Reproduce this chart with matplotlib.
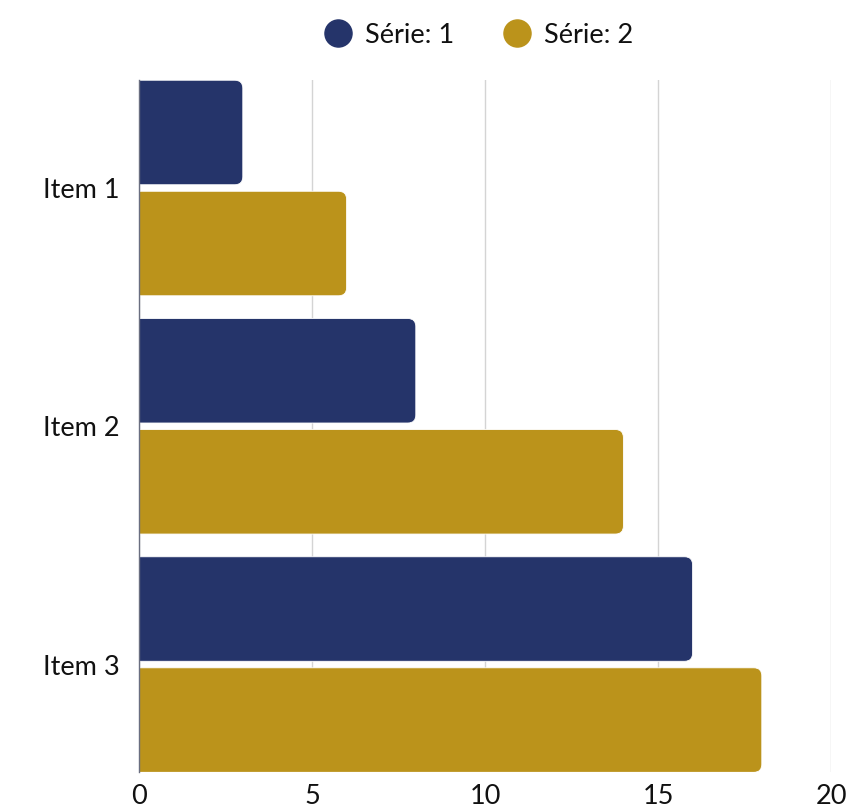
import matplotlib
matplotlib.use("Agg")
import matplotlib.pyplot as plt
from matplotlib.patches import FancyBboxPatch
from matplotlib.lines import Line2D

categories = ["Item 1", "Item 2", "Item 3"]
series_names = ["Série: 1", "Série: 2"]
series_1 = [3, 8, 16]
series_2 = [6, 14, 18]
colors = ["#25346A", "#BB931B"]
x_ticks = [0, 5, 10, 15, 20]

plt.rcParams["font.family"] = ["Lato", "DejaVu Sans"]

W, H = 849, 808
fig = plt.figure(figsize=(W / 100, H / 100), dpi=100)
ax_l, ax_r, ax_t, ax_b = 139, 831, 80, 772
ax = fig.add_axes([ax_l / W, 1 - ax_b / H, (ax_r - ax_l) / W, (ax_b - ax_t) / H])

xmax = 20
ax.set_xlim(0, xmax)
ax.set_ylim(2.451, -0.4533)

bar_h = 0.4386
offset = 0.233
px_x = (ax_r - ax_l) / xmax
px_y = (ax_b - ax_t) / (2.451 + 0.4533)
radius_px = 8
r_x = radius_px / px_x
aspect = px_x / px_y

for s, (vals, col) in enumerate(zip([series_1, series_2], colors)):
    sign = -1 if s == 0 else 1
    for i, v in enumerate(vals):
        yc = i + sign * offset
        patch = FancyBboxPatch(
            (-1, yc - bar_h / 2), v + 1, bar_h,
            boxstyle=f"round,pad=0,rounding_size={r_x}",
            mutation_aspect=aspect,
            facecolor=col, edgecolor="white", linewidth=0.6,
            zorder=3, clip_on=True,
        )
        ax.add_patch(patch)

ax.set_xticks(x_ticks)
ax.set_xticklabels([str(t) for t in x_ticks], fontsize=19.5, color="#111111")
ax.set_yticks(range(len(categories)))
ax.set_yticklabels(categories, fontsize=19.5, color="#111111")
ax.tick_params(axis="x", length=0, pad=9)
ax.tick_params(axis="y", length=0, pad=14)

ax.grid(axis="x", color="#d4d4d4", linewidth=1, zorder=0)
ax.grid(axis="y", visible=False)
ax.set_axisbelow(True)
for side in ["top", "right", "bottom"]:
    ax.spines[side].set_visible(False)
ax.spines["left"].set_color("#6a6e80")
ax.spines["left"].set_linewidth(1)
ax.spines["left"].set_zorder(4)

# legend drawn as circle markers with labels above the plot
leg_y = 1 - 33 / H
marker_x = [338, 517]
for mx, name, col in zip(marker_x, series_names, colors):
    fig.add_artist(Line2D([mx / W], [leg_y], marker="o", markersize=19.5,
                          color=col, linestyle="none", transform=fig.transFigure))
    fig.text((mx + 27) / W, leg_y, name, fontsize=19.5, color="#111111",
             va="center_baseline", ha="left")

fig.savefig("out.png", dpi=100, facecolor="white")
